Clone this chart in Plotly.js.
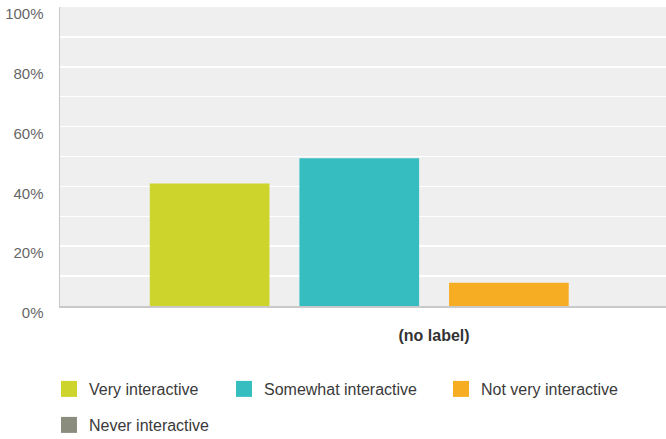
<!DOCTYPE html>
<html>
<head>
<meta charset="utf-8">
<script src="https://cdn.plot.ly/plotly-3.0.1.min.js"></script>
<style>
  html, body { margin: 0; padding: 0; background: #ffffff; overflow: hidden; width: 666px; height: 439px; }
  #wrap { width: 666px; height: 439px; overflow: hidden; position: relative; }
</style>
</head>
<body>
<div id="wrap"><div id="chart"></div></div>
<script>
// ---- data ----
const categories = ["(no label)"];
const seriesNames = ["Very interactive", "Somewhat interactive", "Not very interactive", "Never interactive"];
const seriesValues = [41.0, 49.4, 7.8, 0];
const seriesColors = ["#cdd42b", "#36bdc0", "#f6ad24", "#8a8d7e"];
const yTickValues = [0, 20, 40, 60, 80, 100];
const yTickLabels = ["0%", "20%", "40%", "60%", "80%", "100%"];

const legendIds = ["legend", "legend2", "legend3", "legend4"];

const traces = [];
// bars
seriesNames.forEach((name, i) => {
  traces.push({
    type: "bar",
    name: name,
    x: categories,
    y: [seriesValues[i]],
    marker: { color: seriesColors[i] },
    showlegend: false,
    hoverinfo: "skip"
  });
});
// legend swatches (bigger square markers)
seriesNames.forEach((name, i) => {
  traces.push({
    type: "scatter",
    mode: "markers",
    name: name,
    x: categories,
    y: [null],
    marker: { color: seriesColors[i], symbol: "square", size: 18 },
    showlegend: true,
    legend: legendIds[i],
    hoverinfo: "skip"
  });
});

const legendFont = { family: "Liberation Sans, Arial, sans-serif", size: 16, color: "#3a3a3a" };
function legendBox(x, y) {
  return {
    orientation: "h",
    x: x, xanchor: "left",
    y: y, yanchor: "middle",
    font: legendFont,
    itemwidth: 30,
    bgcolor: "rgba(0,0,0,0)"
  };
}

const layout = {
  width: 666,
  height: 460,
  margin: { l: 60, r: 0, t: 7, b: 154 },
  paper_bgcolor: "#ffffff",
  plot_bgcolor: "#efefef",
  barmode: "group",
  bargap: 0.2,
  bargroupgap: 0.2,
  xaxis: {
    type: "category",
    range: [-0.5, 0.31],
    showgrid: false,
    showline: true,
    linecolor: "#c9c9c9",
    linewidth: 1.5,
    ticks: "",
    ticklabelstandoff: 14,
    tickfont: { family: "Liberation Sans, Arial, sans-serif", size: 16, color: "#333333", weight: "bold" },
    fixedrange: true
  },
  yaxis: {
    range: [0, 100],
    tickmode: "array",
    tickvals: yTickValues,
    ticktext: yTickLabels,
    showgrid: true,
    gridcolor: "#ffffff",
    gridwidth: 1.5,
    minor: { dtick: 10, showgrid: true, gridcolor: "#ffffff", gridwidth: 1.5 },
    zeroline: false,
    showline: true,
    linecolor: "#c9c9c9",
    linewidth: 1.5,
    ticks: "",
    ticklabelstandoff: 12,
    ticklabelshift: 7,
    tickfont: { family: "Liberation Sans, Arial, sans-serif", size: 15, color: "#666666" },
    fixedrange: true
  },
  legend: legendBox(-0.0182, -0.2776),
  legend2: legendBox(0.2706, -0.2776),
  legend3: legendBox(0.6287, -0.2776),
  legend4: legendBox(-0.0182, -0.398),
  showlegend: true
};

Plotly.newPlot("chart", traces, layout, { displayModeBar: false, staticPlot: true });
</script>
</body>
</html>
